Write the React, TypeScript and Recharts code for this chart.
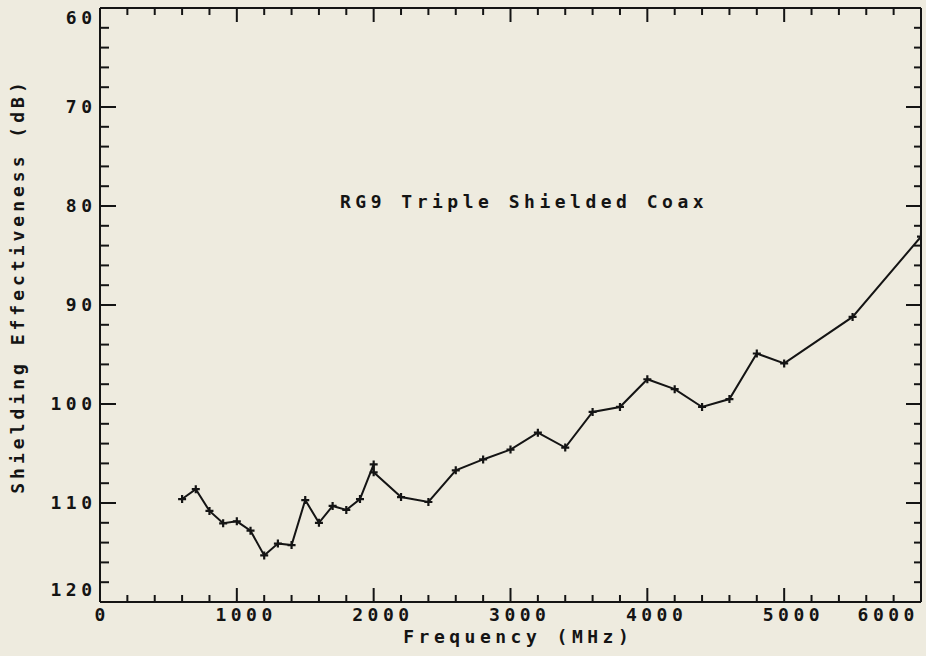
import React from "react";
import { LineChart, Line, XAxis, YAxis } from "recharts";

const frequencies = [600, 700, 800, 900, 1000, 1100, 1200, 1300, 1400, 1500, 1600, 1700, 1800, 1900, 2000, 2000, 2200, 2400, 2600, 2800, 3000, 3200, 3400, 3600, 3800, 4000, 4200, 4400, 4600, 4800, 5000, 5500, 6000];
const shielding = [109.6, 108.6, 110.8, 112.05, 111.85, 112.8, 115.3, 114.1, 114.25, 109.7, 112.0, 110.3, 110.7, 109.6, 106.1, 106.9, 109.4, 109.9, 106.7, 105.6, 104.6, 102.9, 104.4, 100.8, 100.3, 97.5, 98.5, 100.3, 99.5, 94.9, 95.9, 91.2, 83.1];

const xTicks = Array.from({ length: 31 }, (_, i) => i * 200);
const yTicks = Array.from({ length: 31 }, (_, i) => 60 + i * 2);

const title = "RG9 Triple Shielded Coax";
const xLabel = "Frequency (MHz)";
const yLabel = "Shielding Effectiveness (dB)";

const data = frequencies.map((f, i) => ({ f, v: shielding[i] }));

const INK = "#141414";
const BG = "#eeebdf";
const FONT = "'DejaVu Sans Mono', monospace";
const FS = 18;
const LS = 4.5;

const textStyle: React.CSSProperties = {
  fontFamily: FONT,
  fontSize: FS,
  letterSpacing: LS,
  fontWeight: "bold",
};

const BottomTick = (props: any) => {
  const { x, y, payload } = props;
  const v = payload.value;
  const major = v % 1000 === 0;
  let dx = 7 + LS / 2;
  if (v === 0) dx = LS / 2;
  if (v === 6000) dx = -35 + LS / 2;
  return (
    <g>
      <line x1={x} y1={y} x2={x} y2={y - (major ? 14 : 7)} stroke={INK} strokeWidth={2} />
      {major && (
        <text x={x + dx} y={y + 13} dy="0.36em" textAnchor="middle" fill={INK} style={textStyle}>
          {v}
        </text>
      )}
    </g>
  );
};

const TopTick = (props: any) => {
  const { x, y, payload } = props;
  const major = payload.value % 1000 === 0;
  return <line x1={x} y1={y} x2={x} y2={y + (major ? 14 : 7)} stroke={INK} strokeWidth={2} />;
};

const LeftTick = (props: any) => {
  const { x, y, payload } = props;
  const v = payload.value;
  const major = v % 10 === 0;
  let dy = 0;
  if (v === 60) dy = 10;
  if (v === 120) dy = -12;
  return (
    <g>
      <line x1={x} y1={y} x2={x + (major ? 16 : 9)} y2={y} stroke={INK} strokeWidth={2} />
      {major && (
        <text x={x - 8 + LS} y={y + dy} dy="0.36em" textAnchor="end" fill={INK} style={textStyle}>
          {v}
        </text>
      )}
    </g>
  );
};

const RightTick = (props: any) => {
  const { x, y, payload } = props;
  const major = payload.value % 10 === 0;
  return <line x1={x} y1={y} x2={x - (major ? 15 : 7)} y2={y} stroke={INK} strokeWidth={2} />;
};

const PlusDot = (props: any) => {
  const { cx, cy, index } = props;
  if (cx == null || cy == null) return <g key={index} />;
  return (
    <path
      key={index}
      d={`M${cx - 4},${cy}h8M${cx},${cy - 4}v8`}
      stroke={INK}
      strokeWidth={2.2}
      fill="none"
    />
  );
};

export default function App() {
  return (
    <div style={{ position: "absolute", left: 0, top: 0, width: 926, height: 656, background: BG }}>
      <LineChart width={926} height={656} data={data} margin={{ top: 7, right: 4, bottom: 0, left: 0 }}>
        <XAxis
          dataKey="f"
          type="number"
          domain={[0, 6000]}
          ticks={xTicks}
          interval={0}
          height={54}
          tickSize={0}
          tickMargin={0}
          tickLine={false}
          axisLine={{ stroke: INK, strokeWidth: 2 }}
          tick={<BottomTick />}
          allowDataOverflow
        />
        <XAxis
          xAxisId="top"
          orientation="top"
          dataKey="f"
          type="number"
          domain={[0, 6000]}
          ticks={xTicks}
          interval={0}
          height={1}
          tickSize={0}
          tickMargin={0}
          tickLine={false}
          axisLine={{ stroke: INK, strokeWidth: 2 }}
          tick={<TopTick />}
          allowDataOverflow
        />
        <YAxis
          type="number"
          domain={[60, 120]}
          reversed
          ticks={yTicks}
          interval={0}
          width={100}
          tickSize={0}
          tickMargin={0}
          tickLine={false}
          axisLine={{ stroke: INK, strokeWidth: 2 }}
          tick={<LeftTick />}
          allowDataOverflow
        />
        <YAxis
          yAxisId="right"
          orientation="right"
          type="number"
          domain={[60, 120]}
          reversed
          ticks={yTicks}
          interval={0}
          width={1}
          tickSize={0}
          tickMargin={0}
          tickLine={false}
          axisLine={{ stroke: INK, strokeWidth: 2 }}
          tick={<RightTick />}
          allowDataOverflow
        />
        <Line
          xAxisId="top"
          yAxisId="right"
          dataKey="v"
          stroke="none"
          dot={false}
          activeDot={false}
          isAnimationActive={false}
        />
        <Line
          dataKey="v"
          type="linear"
          stroke={INK}
          strokeWidth={2}
          dot={<PlusDot />}
          activeDot={false}
          isAnimationActive={false}
        />
      </LineChart>
      <svg
        width={926}
        height={656}
        style={{ position: "absolute", left: 0, top: 0, pointerEvents: "none" }}
      >
        <text x={340} y={202} dy="0.36em" textAnchor="start" fill={INK} style={textStyle}>
          {title}
        </text>
        <text x={516 + LS / 2} y={637} dy="0.36em" textAnchor="middle" fill={INK} style={textStyle}>
          {xLabel}
        </text>
        <text
          x={18}
          y={286}
          dy="0.36em"
          textAnchor="middle"
          fill={INK}
          style={{ ...textStyle, letterSpacing: 4 }}
          transform="rotate(-90, 18, 286)"
        >
          {yLabel}
        </text>
      </svg>
    </div>
  );
}
